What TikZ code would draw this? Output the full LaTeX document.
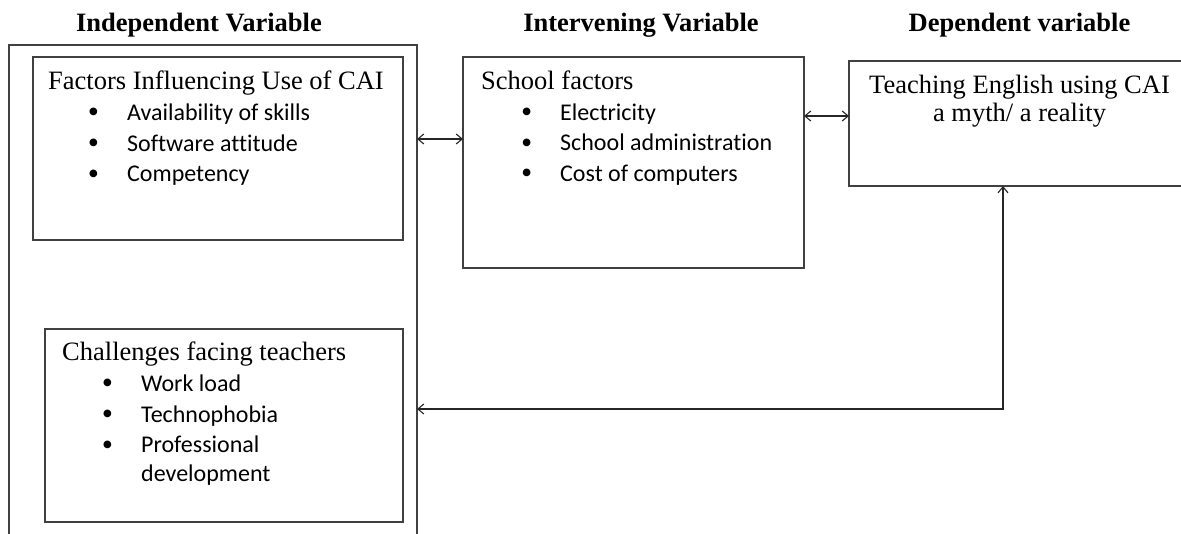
\documentclass[tikz,border=0pt]{standalone}
\usepackage{fontspec}
\setmainfont{Liberation Serif}
\newfontfamily\calib[Ligatures=CommonOff]{Carlito}
\usetikzlibrary{arrows.meta}
\begin{document}
\begin{tikzpicture}[x=1pt,y=-1pt,
  box/.style={draw=black!75,line width=1.3pt,rectangle,inner sep=0pt,outer sep=0pt},
  title/.style={inner sep=0pt,anchor=base,font=\fontsize{26.5}{30}\selectfont\bfseries},
  head/.style={inner sep=0pt,anchor=base west,font=\fontsize{26.5}{30}\selectfont},
  headc/.style={inner sep=0pt,anchor=base,font=\fontsize{26.5}{30}\selectfont},
  itm/.style={inner sep=0pt,anchor=base west,font=\fontsize{24}{28}\calib},
  link/.style={draw=black!85,line width=1.1pt,{Straight Barb[length=6pt,width=10pt]}-{Straight Barb[length=6pt,width=10pt]}}
]
\newcommand{\bul}{\llap{\raisebox{-2.3pt}{\fontsize{32}{34}\rmfamily\textbullet}\hspace{28pt}}}
\useasboundingbox (0,0) rectangle (1181,534);
\clip (0,0) rectangle (1181,534);
\fill[white] (0,0) rectangle (1181,534);

% titles
\node[title] (t1) at (199,32) {Independent Variable};
\node[title] (t2) at (641,32) {Intervening Variable};
\node[title] (t3) at (1019.5,32) {Dependent variable};

% boxes
\node[box,minimum width=408,minimum height=500] (outer) at (213,295) {};
\node[box,minimum width=370,minimum height=183] (fac) at (218,148.5) {};
\node[box,minimum width=358,minimum height=193] (chal) at (224,425.5) {};
\node[box,minimum width=341,minimum height=211] (school) at (633.5,162.5) {};
\node[box,minimum width=346,minimum height=125] (dep) at (1022,123.5) {};

% factors text
\node[head] (fh) at (48,89.3) {Factors Influencing Use of CAI};
\node[itm] (f1) at (127,120.5) {\bul Availability of skills};
\node[itm] (f2) at (127,151.3) {\bul Software attitude};
\node[itm] (f3) at (127,182) {\bul Competency};

% school text
\node[head] (sh) at (481,89.3) {School factors};
\node[itm] (s1) at (560,120.3) {\bul Electricity};
\node[itm] (s2) at (560,151) {\bul School administration};
\node[itm] (s3) at (560,181.5) {\bul Cost of computers};

% dependent text
\node[headc] (d1) at (1019.5,93.3) {Teaching English using CAI};
\node[headc] (d2) at (1019.5,122) {a myth/ a reality};

% challenges text
\node[head] (ch) at (62,360.7) {Challenges facing teachers};
\node[itm] (c1) at (141,391.7) {\bul Work load};
\node[itm] (c2) at (141,422.3) {\bul Technophobia};
\node[itm] (c3) at (141,452.7) {\bul Professional};
\node[itm] (c4) at (141,481.7) {development};

% connectors
\coordinate (a1) at (440,139);
\coordinate (a2) at (826,116);
\coordinate (turn) at (1003,409);
\draw[link] (outer.east |- a1) -- (school.west |- a1);
\draw[link] (school.east |- a2) -- (dep.west |- a2);
\draw[link] (dep.south -| turn) -- (turn) -- (outer.east |- turn);
\end{tikzpicture}
\end{document}
